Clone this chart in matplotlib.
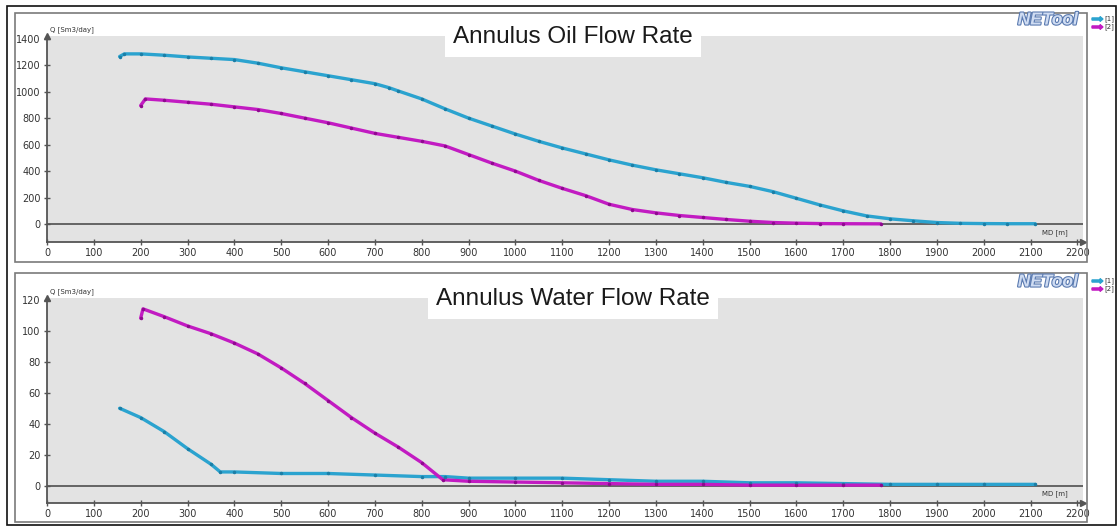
import matplotlib
matplotlib.use("Agg")
import matplotlib.pyplot as plt
import matplotlib.patheffects as pe
from matplotlib.patches import Rectangle, FancyArrow

# ---- data ----
md_ticks = list(range(0, 2201, 100))

oil_md_1 = [155, 165, 200, 250, 300, 350, 400, 450, 500, 550, 600, 650, 700, 730, 750,
            800, 850, 900, 950, 1000, 1050, 1100, 1150, 1200, 1250, 1300, 1350, 1400,
            1450, 1500, 1550, 1600, 1650, 1700, 1750, 1800, 1850, 1900, 1950, 2000,
            2050, 2110]
oil_q_1 = [1265, 1285, 1285, 1275, 1262, 1252, 1242, 1215, 1180, 1150, 1120, 1090, 1060,
           1030, 1005, 945, 870, 800, 740, 680, 625, 575, 530, 485, 445, 410, 380, 350,
           315, 285, 245, 195, 145, 100, 62, 40, 25, 12, 6, 4, 3, 3]

oil_md_2 = [200, 210, 250, 300, 350, 400, 450, 500, 550, 600, 650, 700, 750, 800, 850,
            900, 950, 1000, 1050, 1100, 1150, 1200, 1250, 1300, 1350, 1400, 1450, 1500,
            1550, 1600, 1650, 1700, 1780]
oil_q_2 = [895, 945, 935, 920, 905, 885, 865, 835, 800, 765, 725, 685, 655, 625, 590,
           525, 460, 400, 330, 270, 215, 150, 110, 85, 65, 50, 35, 22, 12, 7, 4, 3, 2]

wat_md_1 = [155, 200, 250, 300, 350, 370, 400, 500, 600, 700, 800, 850, 900, 1000, 1100,
            1200, 1300, 1400, 1500, 1600, 1700, 1800, 1900, 2000, 2110]
wat_q_1 = [50, 44, 35, 24, 14, 9, 9, 8, 8, 7, 6, 6, 5, 5, 5, 4, 3, 3, 2, 2, 1.5, 1, 1, 1, 1]

wat_md_2 = [200, 205, 250, 300, 350, 400, 450, 500, 550, 600, 650, 700, 750, 800, 845,
            900, 1000, 1100, 1200, 1300, 1400, 1500, 1600, 1700, 1780]
wat_q_2 = [108, 114, 109, 103, 98, 92, 85, 76, 66, 55, 44, 34, 25, 15, 4, 3, 2.5, 2, 1.5,
           1, 1, 0.5, 0.5, 0.5, 0.5]

series_names = ["[1]", "[2]"]
oil_ticks = list(range(0, 1401, 200))
wat_ticks = list(range(0, 121, 20))

C1, C1D = "#2ba3cf", "#1b7ea6"
C2, C2D = "#c21bc2", "#8e0a8e"
AXC = "#555555"

W, H = 1118, 527
fig = plt.figure(figsize=(W / 100, H / 100), dpi=100)
fig.patch.set_facecolor("white")


def fx(px):
    return px / W


def fy(py):
    return 1 - py / H


# outer frame and panel frames
fig.add_artist(Rectangle((fx(7), fy(525)), fx(1116) - fx(7), fy(6) - fy(525),
                         transform=fig.transFigure, fill=False, ec="#111111", lw=1.2))
for top, bot in [(13, 262), (273, 522)]:
    fig.add_artist(Rectangle((fx(15), fy(bot)), fx(1087) - fx(15), fy(top) - fy(bot),
                             transform=fig.transFigure, fill=False, ec="#7a7a7a", lw=1.2))


def panel(top_px, bot_px, ylim, yticks, xs, ys, title, title_y):
    ax = fig.add_axes([fx(47), fy(bot_px), fx(1083) - fx(47), fy(top_px) - fy(bot_px)])
    ax.set_facecolor("#e3e3e3")
    ax.set_xlim(0, 2212)
    ax.set_ylim(*ylim)
    for s in ["top", "right"]:
        ax.spines[s].set_visible(False)
    for s in ["left", "bottom"]:
        ax.spines[s].set_color(AXC)
        ax.spines[s].set_linewidth(1.3)
    ax.axhline(0, color="#5a5a5a", lw=1.3, zorder=1)
    ax.set_xticks(md_ticks)
    ax.set_yticks(yticks)
    ax.tick_params(direction="inout", length=5, width=1, color=AXC,
                   labelsize=7, labelcolor="#333333", pad=2)
    for x, y, c, cd in [(xs[0], ys[0], C1, C1D), (xs[1], ys[1], C2, C2D)]:
        ax.plot(x, y, color=c, lw=2.4, solid_capstyle="round", zorder=3)
        ax.plot(x, y, ls="none", marker="o", ms=1.5, color=cd, zorder=4)
    # axis arrows
    ax.plot([1], [0], marker=">", ms=4, color=AXC, transform=ax.transAxes, clip_on=False)
    ax.plot([0], [1], marker="^", ms=4, color=AXC, transform=ax.transAxes, clip_on=False)
    ax.annotate("MD [m]", xy=(0.985, 0), xycoords="axes fraction", xytext=(0, 4),
                textcoords="offset points", fontsize=5, color="#333333",
                ha="right", va="bottom")
    # y-axis name
    fig.text(fx(50), fy(top_px - 6), "Q [Sm3/day]", fontsize=5, color="#333333",
             ha="left", va="center")
    # title in white box
    fig.text(fx(573), fy(title_y + 1), title, fontsize=17.5, color="#1a1a1a",
             family="Liberation Sans", ha="center", va="center",
             bbox=dict(boxstyle="square,pad=0.35", fc="white", ec="none"))
    # logo
    fig.text(fx(1078), fy(top_px - 16), "NETool", fontsize=12.5, fontweight="bold",
             fontstyle="italic", color="#cfdcf2", ha="right", va="center",
             family="Liberation Sans",
             path_effects=[pe.withStroke(linewidth=1.6, foreground="#5a7ab0")])
    # legend
    for i, (name, c) in enumerate(zip(series_names, [C1, C2])):
        yy = fy(top_px - 17 + i * 8)
        fig.add_artist(FancyArrow(fx(1092), yy, fx(11), 0, width=0.004,
                                  head_width=0.009, head_length=fx(3),
                                  length_includes_head=True,
                                  transform=fig.transFigure, color=c))
        fig.text(fx(1104), yy, name, fontsize=5, color="#333333", ha="left", va="center")
    return ax


panel(36, 242, (-135, 1420), oil_ticks, [oil_md_1, oil_md_2], [oil_q_1, oil_q_2],
      "Annulus Oil Flow Rate", 36)
panel(298, 503, (-11, 121), wat_ticks, [wat_md_1, wat_md_2], [wat_q_1, wat_q_2],
      "Annulus Water Flow Rate", 298)

fig.savefig("out.png", dpi=100)
